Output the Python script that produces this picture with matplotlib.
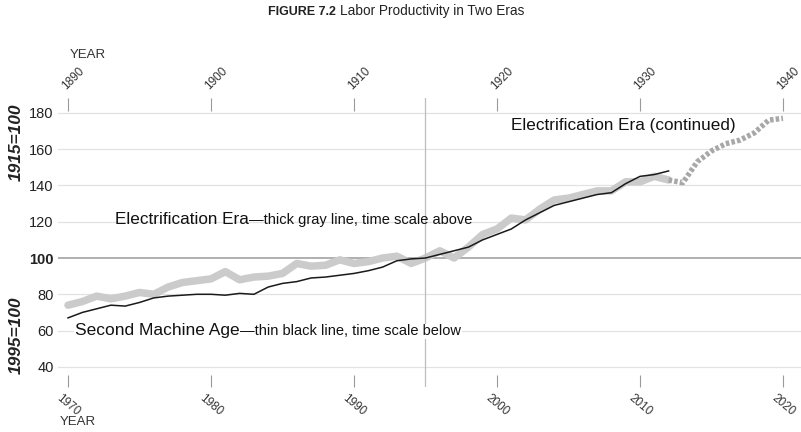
import matplotlib
matplotlib.use("Agg")
import matplotlib.pyplot as plt
from matplotlib.transforms import ScaledTranslation

# Second Machine Age (bottom time scale, 1995=100)
modern_years = list(range(1970, 2013))
modern_values = [67, 70, 72, 74, 73.5, 75.5, 78, 79, 79.5, 80,
                 80, 79.5, 80.5, 80, 84, 86, 87, 89, 89.5, 90.5,
                 91.5, 93, 95, 98.5, 99.5, 100, 102, 104, 106, 110,
                 113, 116, 121, 125, 129, 131, 133, 135, 136, 141,
                 145, 146, 148]

# Electrification Era (top time scale, 1915=100)
early_years = list(range(1890, 1933))
early_values = [74, 76, 79, 77.5, 79, 81, 80, 84, 86.5, 87.5,
                88.5, 92.5, 88, 89.5, 90, 91.5, 97, 95.5, 96, 99,
                97, 98, 100, 101, 97, 100, 104, 100, 106, 113,
                116, 122, 121, 127, 132, 133, 135, 137, 137, 142,
                142, 145, 143]

# Electrification Era (continued), dotted
cont_years = list(range(1932, 1941))
cont_values = [143, 141.5, 153, 159, 163, 165, 169, 176, 177]

bottom_ticks = [1970, 1980, 1990, 2000, 2010, 2020]
top_ticks = [1890, 1900, 1910, 1920, 1930, 1940]
y_ticks = [40, 60, 80, 100, 120, 140, 160, 180]

MAIN = ["Liberation Sans", "DejaVu Sans"]

fig = plt.figure(figsize=(8.01, 4.32), dpi=100)
ax = fig.add_axes([58 / 801, 1 - 387 / 432, 743 / 801, 289 / 432])
ax_top = ax.twiny()
ax.set_zorder(2)
ax_top.set_zorder(1)
ax.patch.set_visible(False)

ax.set_xlim(1969.30, 2021.26)
ax_top.set_xlim(1889.30, 1941.26)
ax.set_ylim(28.9, 188.2)

for a in (ax, ax_top):
    for s in a.spines.values():
        s.set_visible(False)

# gridlines under everything
for v in y_ticks:
    ax_top.axhline(v, color="#9a9a9a" if v == 100 else "#e2e2e2",
                   lw=1.1 if v == 100 else 0.9, zorder=0)

ax_top.plot(early_years, early_values, color="#cbcbcb", lw=5.4,
            solid_joinstyle="round", solid_capstyle="round", zorder=2)
ax_top.plot(cont_years, cont_values, color="#a8a8a8", lw=3.9,
            dashes=(0.65, 0.4), dash_capstyle="butt", zorder=2)

ax.axvline(1995, color="#bdbdbd", lw=0.9, zorder=1)
ax.plot(modern_years, modern_values, color="#1a1a1a", lw=1.1, zorder=3)

# ticks
ax.set_xticks(bottom_ticks)
ax.set_xticklabels([str(t) for t in bottom_ticks], family=MAIN, fontsize=8.5,
                   rotation=-40, ha="center", va="top")
ax.tick_params(axis="x", direction="in", length=9, width=0.8, color="#9a9a9a",
               pad=4, labelcolor="#333333")
ax_top.set_xticks(top_ticks)
ax_top.set_xticklabels([str(t) for t in top_ticks], family=MAIN, fontsize=8.5,
                       rotation=45, ha="center", va="bottom")
ax_top.tick_params(axis="x", direction="in", length=9, width=0.8, color="#9a9a9a",
                   pad=4, labelcolor="#333333")
shift = ScaledTranslation(4 / 72, 0, fig.dpi_scale_trans)
for lab in ax_top.get_xticklabels():
    lab.set_transform(lab.get_transform() + shift)

ax.set_yticks(y_ticks)
ax.set_yticklabels([str(v) for v in y_ticks], family=MAIN, fontsize=10.5,
                   color="#222222")
ax.tick_params(axis="y", length=0, pad=3)
for lab in ax.get_yticklabels():
    if lab.get_text() == "100":
        lab.set_fontweight("bold")

# side scale labels
fig.text(16 / 801, 1 - 142 / 432, "1915=100", rotation=90, family=MAIN,
         fontsize=12.5, fontweight="bold", style="italic", ha="center", va="center",
         color="#222222")
fig.text(16 / 801, 1 - 335 / 432, "1995=100", rotation=90, family=MAIN,
         fontsize=12.5, fontweight="bold", style="italic", ha="center", va="center",
         color="#222222")

fig.text(70 / 801, 1 - 55 / 432, "YEAR", family=MAIN, fontsize=9.5,
         ha="left", va="center", color="#333333")
fig.text(60 / 801, 1 - 422 / 432, "YEAR", family=MAIN, fontsize=9.5,
         ha="left", va="center", color="#333333")

# title
t_bold = fig.text(268 / 801, 1 - 12 / 432, "FIGURE 7.2", family=MAIN, fontsize=9,
                  fontweight="bold", ha="left", va="center", color="#222222")
ax.annotate("Labor Productivity in Two Eras", xy=(1, 0), xycoords=t_bold,
            xytext=(3, 0), textcoords="offset points", family=MAIN, fontsize=9.8,
            ha="left", va="bottom", color="#222222", annotation_clip=False)

# annotations
ax.text(2000.98, 173.3, "Electrification Era (continued)", family=MAIN,
        fontsize=12.3, ha="left", va="center", color="#111111", zorder=4)

t1 = ax.text(1973.3, 121, "Electrification Era", family=MAIN, fontsize=12.3,
             ha="left", va="center", color="#111111", zorder=4)
ax.annotate("\u2014thick gray line, time scale above", xy=(1, 0), xycoords=t1,
            xytext=(0, 0), textcoords="offset points", family=MAIN, fontsize=10.5,
            ha="left", va="bottom", color="#111111", zorder=4)

t2 = ax.text(1970.5, 59.8, "Second Machine Age", family=MAIN, fontsize=12.5,
             ha="left", va="center", color="#111111", zorder=4,
             bbox=dict(facecolor="white", edgecolor="none", pad=0.5))
ax.annotate("\u2014thin black line, time scale below", xy=(1, 0), xycoords=t2,
            xytext=(0, 0), textcoords="offset points", family=MAIN, fontsize=10.5,
            ha="left", va="bottom", color="#111111", zorder=4,
            bbox=dict(facecolor="white", edgecolor="none", pad=0.5))

fig.savefig("out.png", dpi=100)
